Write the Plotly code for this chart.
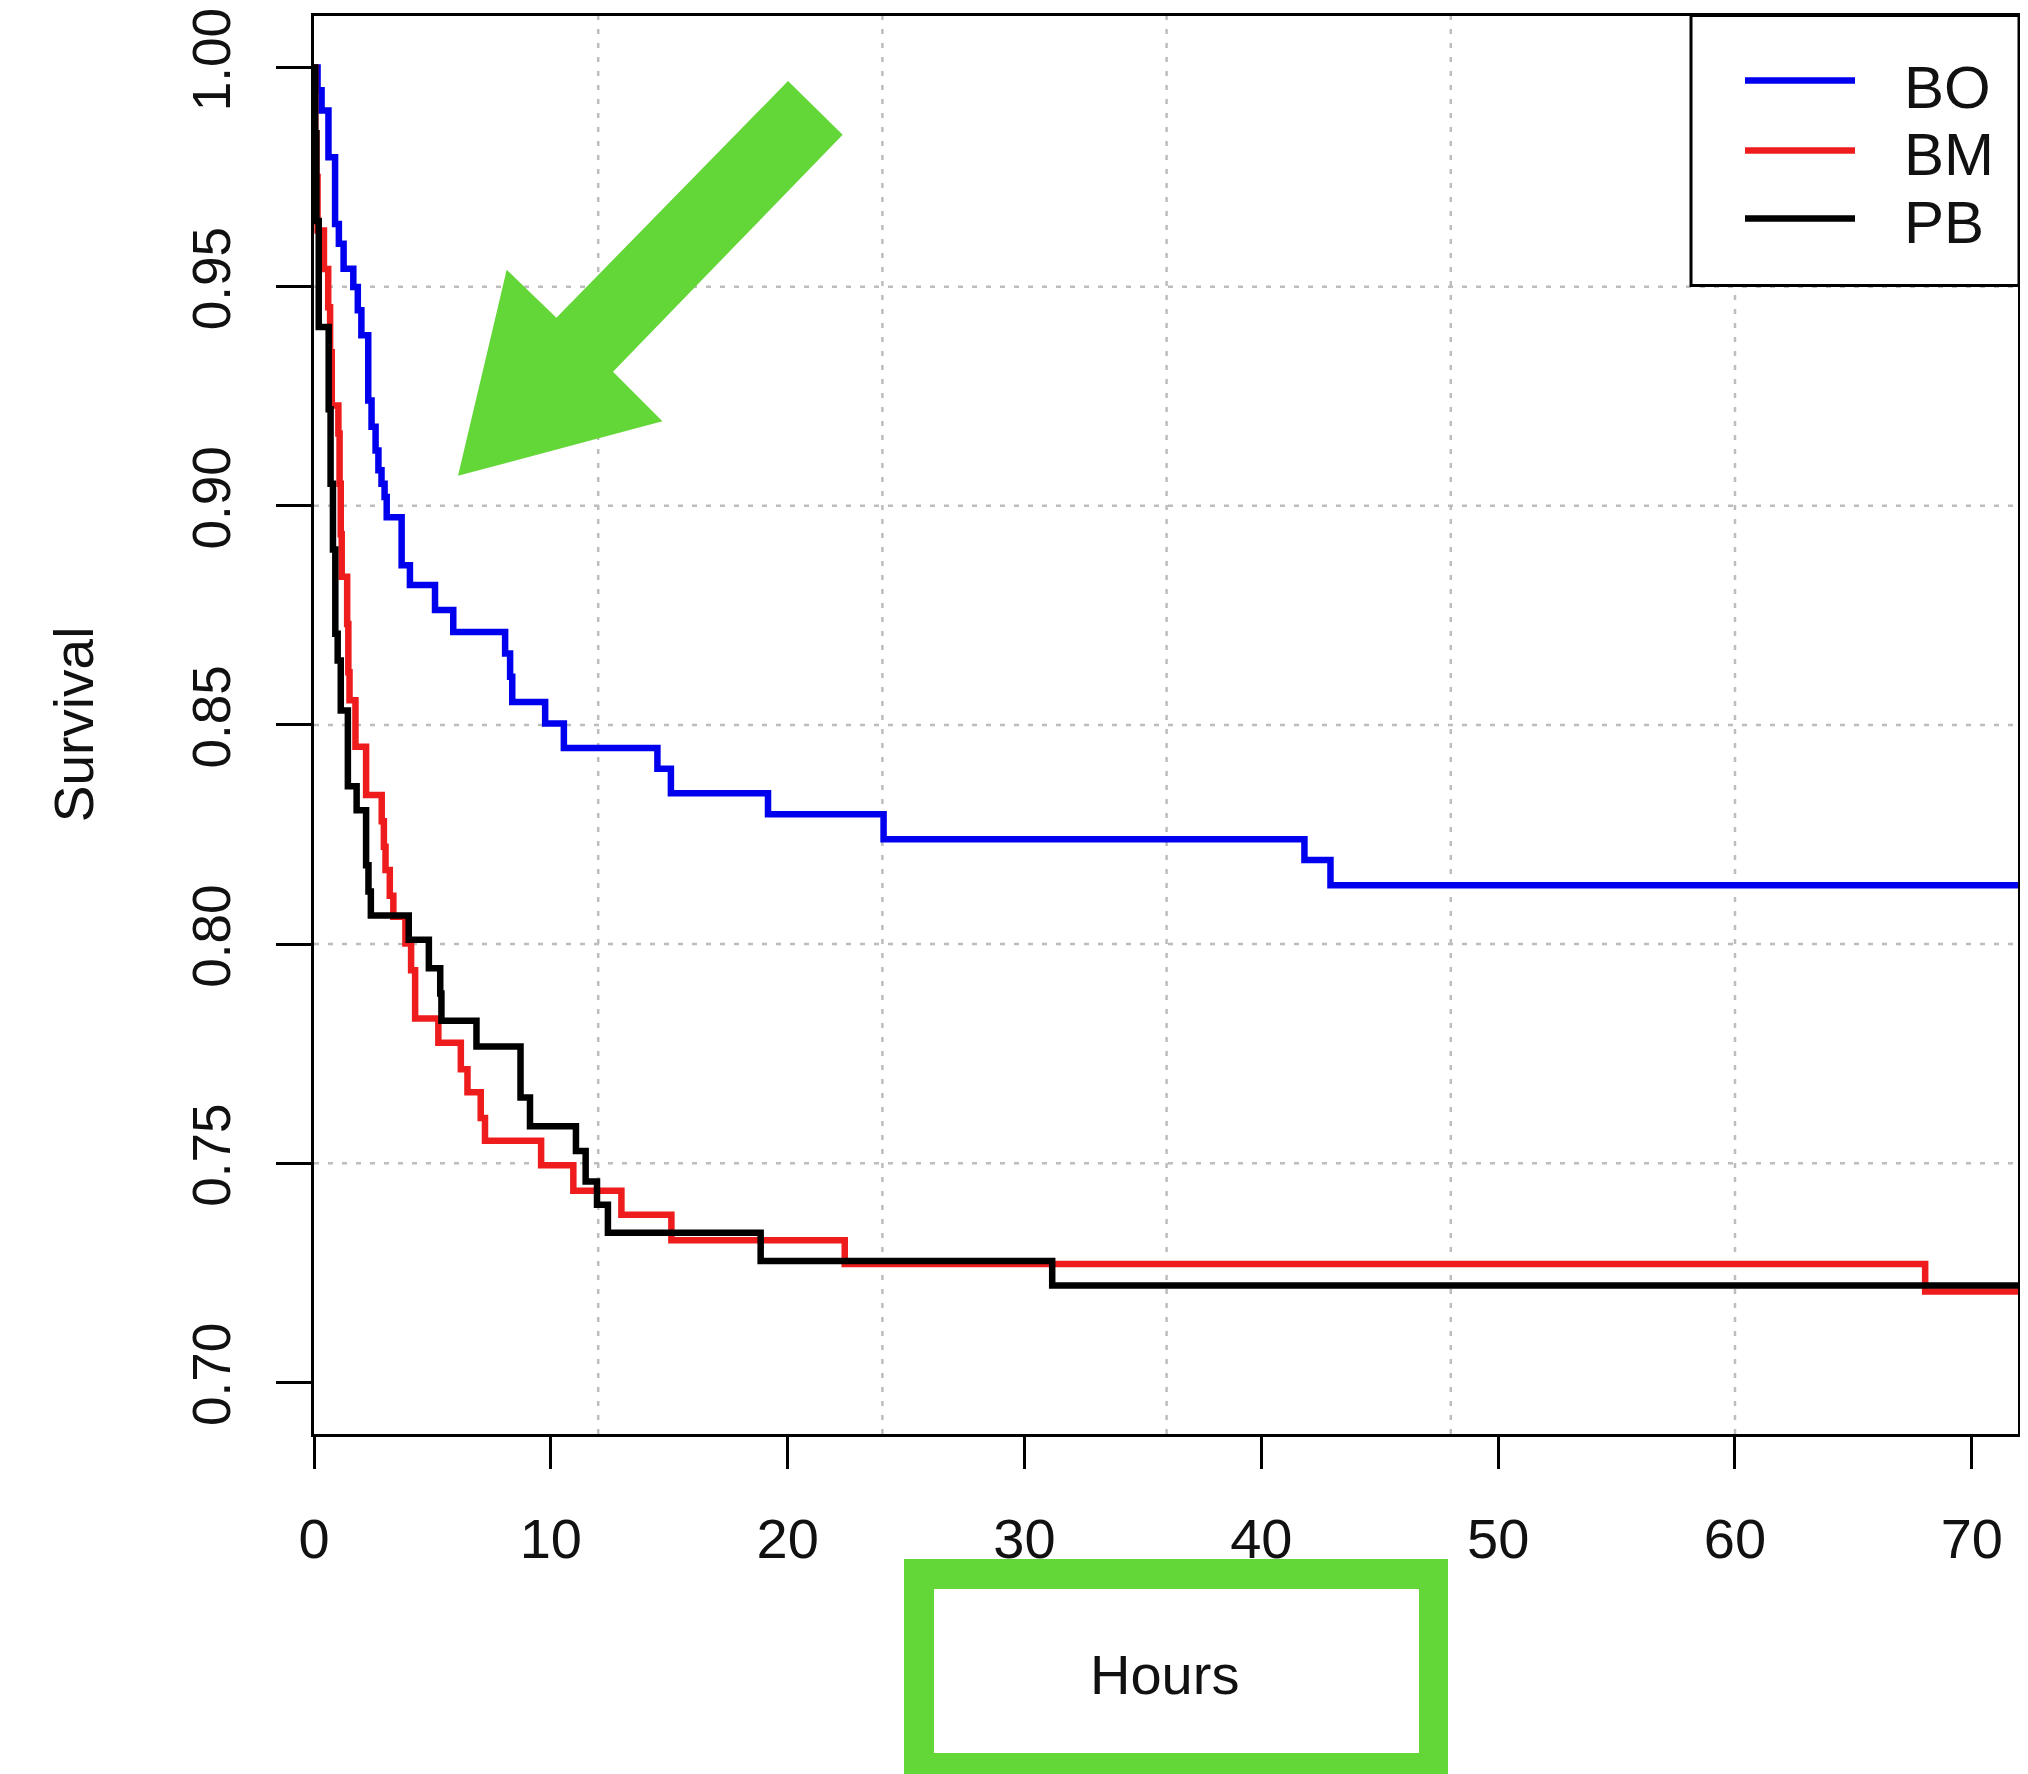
import plotly.graph_objects as go

# ---------------- data ----------------
series_names = ["BO", "BM", "PB"]
series_colors = ["#0000ee", "#ee1c1c", "#000000"]

bo_time = [0, 0.15, 0.32, 0.61, 0.89, 1.05, 1.25, 1.66, 1.85, 2.0, 2.29, 2.43, 2.6, 2.72,
           2.85, 2.98, 3.07, 3.70, 4.05, 5.11, 5.88, 8.07, 8.28, 8.37, 9.76, 10.55, 14.5,
           15.07, 19.17, 24.05, 41.82, 42.92]
bo_surv = [1.0, 0.9948, 0.9902, 0.9795, 0.9643, 0.9598, 0.9541, 0.9499, 0.9446, 0.9389,
           0.924, 0.918, 0.9126, 0.9081, 0.905, 0.902, 0.8974, 0.8864, 0.8819, 0.8762,
           0.8712, 0.8663, 0.861, 0.8552, 0.8503, 0.8447, 0.8400, 0.8344, 0.8296, 0.8239,
           0.8192, 0.8134]

bm_time = [0, 0.05, 0.1, 0.15, 0.42, 0.6, 0.68, 0.75, 1.03, 1.08, 1.13, 1.17, 1.40, 1.45,
           1.5, 1.75, 2.2, 2.86, 2.95, 3.02, 3.2, 3.35, 3.86, 4.1, 4.27, 5.25, 6.2, 6.48,
           7.04, 7.22, 9.59, 10.95, 12.98, 15.09, 22.41, 68.03]
bm_surv = [1.0, 0.985, 0.975, 0.9628, 0.954, 0.9453, 0.935, 0.9229, 0.9165, 0.905, 0.8935,
           0.8838, 0.873, 0.862, 0.8556, 0.845, 0.834, 0.828, 0.8222, 0.8169, 0.811, 0.8062,
           0.8001, 0.794, 0.783, 0.7775, 0.7714, 0.7662, 0.7603, 0.7551, 0.7495, 0.7437,
           0.7382, 0.7324, 0.727, 0.7207]

pb_time = [0, 0.05, 0.1, 0.2, 0.62, 0.7, 0.8, 0.9, 1.0, 1.13, 1.43, 1.8, 2.2, 2.3, 2.4,
           4.0, 4.85, 5.33, 5.38, 6.86, 8.72, 9.12, 11.06, 11.47, 11.95, 12.41, 18.86, 31.17]
pb_surv = [1.0, 0.985, 0.965, 0.9408, 0.922, 0.905, 0.89, 0.8708, 0.8647, 0.8533, 0.836,
           0.8305, 0.818, 0.812, 0.8065, 0.801, 0.7945, 0.7887, 0.7825, 0.7766, 0.765,
           0.7584, 0.7528, 0.7458, 0.7405, 0.7341, 0.7277, 0.7221]

follow_up_end = 72.0

x_ticks = [0, 10, 20, 30, 40, 50, 60, 70]
y_ticks = [0.70, 0.75, 0.80, 0.85, 0.90, 0.95, 1.00]
grid_x = [12, 24, 36, 48, 60]
grid_y = [0.75, 0.80, 0.85, 0.90, 0.95]

x_title = "Hours"
y_title = "Survival"

# ---------------- layout geometry (target page pixels) ----------------
OFF = 8                      # default body margin of the html page
W, H = 2028 - OFF, 1774 - OFF
L, R, T, B = 314, 2018, 15.5, 1434   # plot box on the page
FONT = "Liberation Sans, Arial, sans-serif"
GREEN = "#63d638"


def px(X):
    return (X - L) / (R - L)


def py(Y):
    return (B - Y) / (B - T)


fig = go.Figure()

all_times = [bo_time, bm_time, pb_time]
all_surv = [bo_surv, bm_surv, pb_surv]
for name, col, tt, ss in zip(series_names, series_colors, all_times, all_surv):
    fig.add_trace(go.Scatter(
        x=tt + [follow_up_end], y=ss + [ss[-1]],
        mode="lines", line=dict(color=col, width=6.5, shape="hv"),
        name=name, showlegend=False, hoverinfo="x+y+name"))

shapes = []
# grid lines (light grey dotted)
for gx in grid_x:
    shapes.append(dict(type="line", xref="x", yref="paper", x0=gx, x1=gx, y0=0, y1=1,
                       layer="below", line=dict(color="#bdbdbd", width=2.5, dash="5px,9px")))
for gy in grid_y:
    shapes.append(dict(type="line", xref="paper", yref="y", x0=0, x1=1, y0=gy, y1=gy,
                       layer="below", line=dict(color="#bdbdbd", width=2.5, dash="5px,9px")))

# legend box
shapes.append(dict(type="rect", xref="paper", yref="paper",
                   x0=px(1691), x1=px(2019), y0=py(285), y1=py(15),
                   fillcolor="white", line=dict(color="black", width=3), layer="above"))
legend_y = [80, 150, 218]
for col, ly in zip(series_colors, legend_y):
    shapes.append(dict(type="line", xref="paper", yref="paper",
                       x0=px(1745), x1=px(1855), y0=py(ly), y1=py(ly),
                       line=dict(color=col, width=6.5), layer="above"))

# green arrow
arrow_pts = [(458, 475.5), (506.7, 269.4), (556.4, 317.3), (788, 80.6),
             (842.7, 134.2), (613, 371.4), (662.4, 420.9)]
path = "M " + " L ".join(f"{px(a):.5f},{py(b):.5f}" for a, b in arrow_pts) + " Z"
shapes.append(dict(type="path", xref="paper", yref="paper", path=path,
                   fillcolor=GREEN, line=dict(width=0), layer="above"))

# green frame around the x-axis title
for (x0, x1, y0, y1) in [(904, 934, 1559, 1780), (1419, 1448, 1559, 1780),
                         (904, 1448, 1559, 1589), (904, 1448, 1753, 1780)]:
    shapes.append(dict(type="rect", xref="paper", yref="paper",
                       x0=px(x0), x1=px(x1), y0=py(y1), y1=py(y0),
                       fillcolor=GREEN, line=dict(width=0), layer="above"))

annotations = []
legend_text_y = [87, 154, 222]
for name, ty in zip(series_names, legend_text_y):
    annotations.append(dict(xref="paper", yref="paper", x=px(1902), y=py(ty),
                            text=name, showarrow=False, xanchor="left", yanchor="middle",
                            font=dict(family=FONT, size=60, color="#111111")))
annotations.append(dict(xref="paper", yref="paper", x=px(1164), y=py(1675), text=x_title,
                        showarrow=False, xanchor="center", yanchor="middle",
                        font=dict(family=FONT, size=56, color="#111111")))
annotations.append(dict(xref="paper", yref="paper", x=px(74), y=py(724), text=y_title,
                        showarrow=False, xanchor="center", yanchor="middle", textangle=-90,
                        font=dict(family=FONT, size=55, color="#111111")))

fig.update_layout(
    width=W, height=H,
    margin=dict(l=L - OFF, r=(W + OFF) - R, t=T - OFF, b=(H + OFF) - B, pad=0,
                autoexpand=False),
    paper_bgcolor="white", plot_bgcolor="white",
    showlegend=False,
    shapes=shapes, annotations=annotations,
    xaxis=dict(range=[0, 71.95], tickvals=x_ticks, ticktext=[str(v) for v in x_ticks],
               automargin=False, ticklabeloverflow="allow",
               showgrid=False, zeroline=False, showline=True, mirror=True,
               linecolor="black", linewidth=3, ticks="outside", ticklen=32, tickwidth=3,
               tickcolor="black", ticklabelstandoff=22,
               tickfont=dict(family=FONT, size=56, color="#111111")),
    yaxis=dict(range=[0.6882, 1.01175], tickvals=y_ticks,
               ticktext=[f"{v:.2f}" for v in y_ticks],
               automargin=False, ticklabeloverflow="allow",
               showgrid=False, zeroline=False, showline=True, mirror=True,
               linecolor="black", linewidth=3, ticks="outside", ticklen=35, tickwidth=3,
               tickcolor="black", tickangle=-90, ticklabelstandoff=25,
               tickfont=dict(family=FONT, size=53, color="#111111")),
)

fig.write_html("out.html")
